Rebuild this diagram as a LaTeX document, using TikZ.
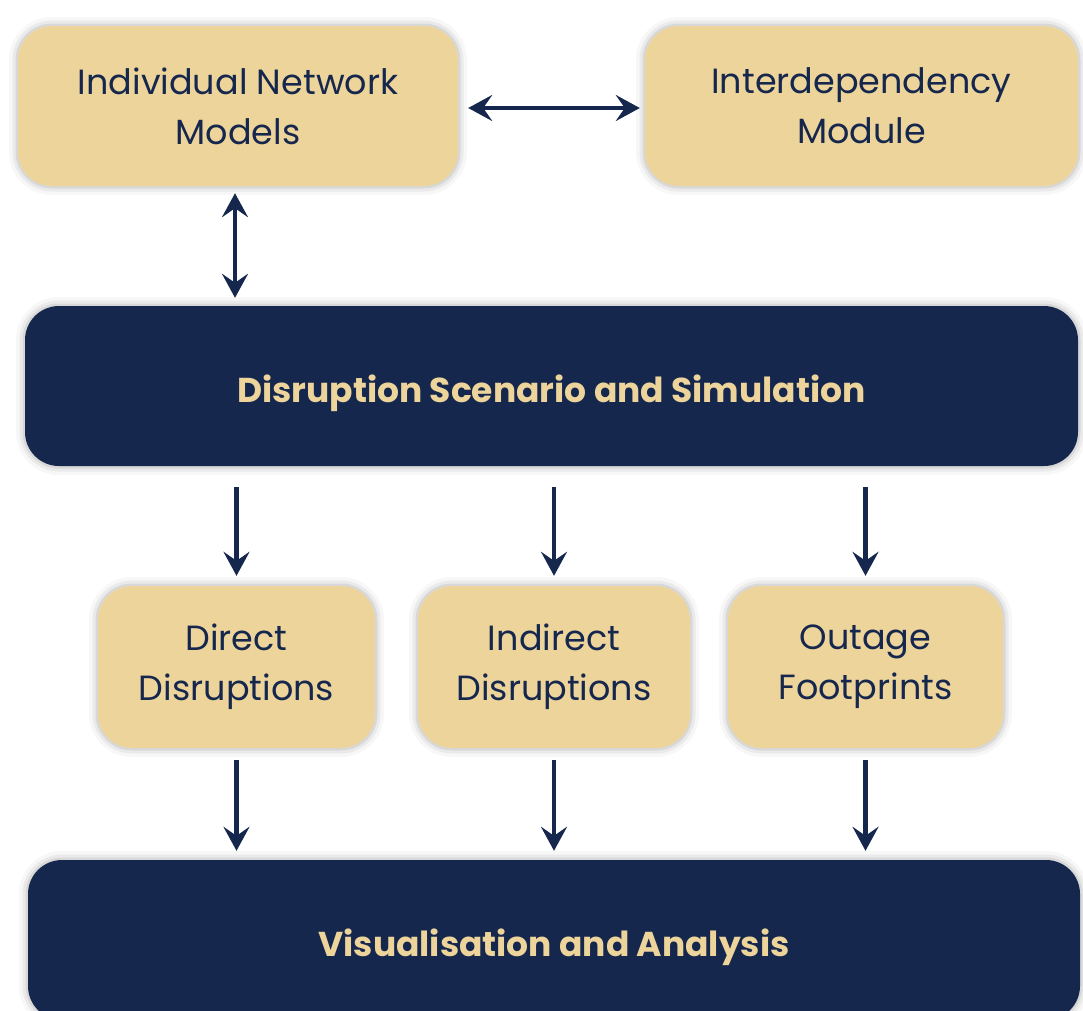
\documentclass[tikz,border=0pt]{standalone}
\usepackage{fontspec}
\setmainfont{Poppins}
\usetikzlibrary{arrows.meta,calc}
\definecolor{navy}{RGB}{22,39,78}
\definecolor{sand}{RGB}{237,212,155}
\begin{document}
\begin{tikzpicture}[x=1pt,y=-1pt,
  halo/.style={
    preaction={draw=black,draw opacity=0.03,line width=18pt},
    preaction={draw=black,draw opacity=0.05,line width=11pt},
    preaction={draw=black,draw opacity=0.08,line width=5pt}},
  boxbase/.style={halo,rectangle,rounded corners=34pt,align=center,inner sep=0pt},
  lightbox/.style={boxbase,fill=sand,text=navy,
    font=\fontsize{35}{50}\selectfont},
  darkbox/.style={boxbase,fill=navy,text=sand,text height=32pt,text depth=0pt,
    font=\bfseries\fontsize{34.5}{50}\selectfont},
  tip/.tip={Stealth[length=24pt,width=26pt,inset=9pt]},
  link/.style={draw=navy,line width=4.5pt,-tip},
  duallink/.style={draw=navy,line width=4.5pt,tip-tip},
]
\useasboundingbox (0,0) rectangle (1083,1010);

% top row
\node[lightbox,minimum width=440pt,minimum height=160pt] (inm) at (238,106)
  {Individual Network\\Models};
\node[lightbox,minimum width=433pt,minimum height=160pt] (idm) at (861.5,106)
  {Interdependency\\Module};

% simulation stage
\node[darkbox,minimum width=1053pt,minimum height=160pt] (dss) at (551.5,386)
  {Disruption Scenario and Simulation};

% outputs
\node[lightbox,minimum width=277pt,minimum height=162pt] (dd) at (236.5,667)
  {Direct\\Disruptions};
\node[lightbox,minimum width=272pt,minimum height=162pt] (id) at (554,667)
  {Indirect\\Disruptions};
\node[lightbox,minimum width=275pt,minimum height=162pt] (of) at (865.5,667)
  {Outage\\Footprints};

% analysis stage
\node[darkbox,minimum width=1052pt,minimum height=160pt] (va) at (554,940)
  {Visualisation and Analysis};

% connectors
\draw[duallink,shorten <=10pt,shorten >=5pt] ([yshift=-2pt]inm.east) -- ([yshift=-2pt]idm.west);
\draw[duallink,shorten <=7pt,shorten >=8pt]
  ([xshift=-3pt]inm.south) -- ([xshift=-3pt]inm.south |- dss.north);

\foreach \n in {dd,id,of}{
  \draw[link,shorten <=21pt,shorten >=10pt] (dss.south -| \n.north) -- (\n.north);
  \draw[link,shorten <=12pt,shorten >=9pt] (\n.south) -- (\n.south |- va.north);
}
\end{tikzpicture}
\end{document}
